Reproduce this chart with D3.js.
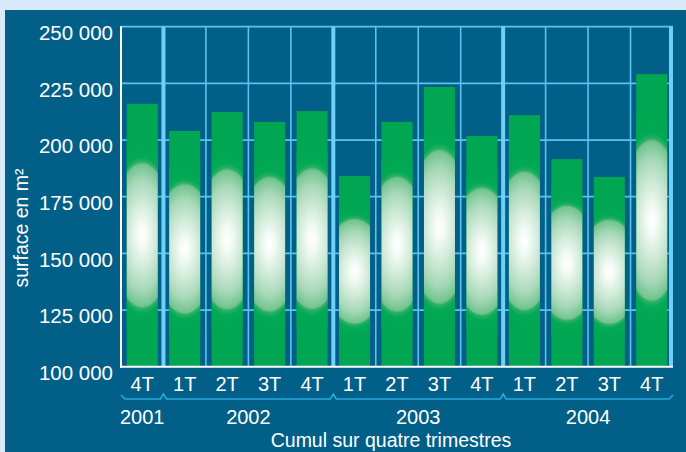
<!DOCTYPE html>
<html>
<head>
<meta charset="utf-8">
<script src="https://cdn.jsdelivr.net/npm/d3@7"></script>
<style>
  html, body { margin: 0; padding: 0; background: #d8e9f7; }
  svg { display: block; }
  text { font-family: "Liberation Sans", Arial, sans-serif; fill: #ffffff; }
</style>
</head>
<body>
<svg id="chart" width="686" height="452"></svg>
<script>
// ---- data ----
const quarters = ["4T","1T","2T","3T","4T","1T","2T","3T","4T","1T","2T","3T","4T"];
const years = ["2001","2002","2003","2004"];
const yearSpans = [1, 4, 4, 4];
const values = [216000, 204000, 212400, 208000, 212800, 184100, 208000, 223400, 201800, 211000, 191600, 183700, 229100];
const yTicks = [100000, 125000, 150000, 175000, 200000, 225000, 250000];
const yTitle = "surface en m²";
const xTitle = "Cumul sur quatre trimestres";

(function () {
// ---- layout ----
const W = 686, H = 452;
const pLeft = 121, pRight = 673, pTop = 26.7, pBottom = 366.7;
const bg = "#015f88", green = "#00a651", grid = "#5cc3ee", gridThick = "#6fd0f7", brace = "#27a9e1";

const svg = d3.select("#chart");
svg.append("rect").attr("x", 0).attr("y", 0).attr("width", W).attr("height", H).attr("fill", "#d8e9f7");
svg.append("rect").attr("x", 5).attr("y", 10).attr("width", W - 5).attr("height", H - 10).attr("fill", bg);

const idx = d3.range(quarters.length);
const x = d3.scaleBand().domain(idx).range([pLeft, pRight]).paddingInner(0.27).paddingOuter(0.135);
const y = d3.scaleLinear().domain([100000, 250000]).range([pBottom, pTop]);
const step = x.step();
const bw = x.bandwidth();

// per-bar radial gradients (user space)
const stops = [[0, "#ffffff"], [0.12, "#f4fbf6"], [0.35, "#d2ebda"], [0.6, "#a6d8b7"], [0.77, "#72c490"],
               [0.8, "#2caf65"], [0.85, "#03aa56"], [1, green]];
const defs = svg.append("defs");
values.forEach((v, i) => {
  const h = pBottom - y(v);
  const cx = x(i) + bw / 2, cy = y(v) + h / 2, r = 0.35 * h;
  const sx = (1.25 * bw) / r;
  const g = defs.append("radialGradient").attr("id", "glow" + i)
    .attr("gradientUnits", "userSpaceOnUse")
    .attr("cx", cx).attr("cy", cy).attr("r", r)
    .attr("gradientTransform", `translate(${cx},${cy}) scale(${sx},1) translate(${-cx},${-cy})`);
  stops.forEach(([o, c]) => g.append("stop").attr("offset", o).attr("stop-color", c));
});

// horizontal gridlines
svg.append("g").selectAll("line").data(yTicks.slice(1)).join("line")
  .attr("x1", pLeft).attr("x2", pRight)
  .attr("y1", d => y(d)).attr("y2", d => y(d))
  .attr("stroke", grid).attr("stroke-width", 1.8);

// vertical gridlines at slot boundaries
const boundaries = d3.range(1, quarters.length + 1);
const yearEnds = Array.from(d3.cumsum(yearSpans));
const thick = new Set(yearEnds);
svg.append("g").selectAll("line").data(boundaries).join("line")
  .attr("x1", i => pLeft + i * step - (i === quarters.length ? 2 : 0))
  .attr("x2", i => pLeft + i * step - (i === quarters.length ? 2 : 0))
  .attr("y1", pTop).attr("y2", pBottom)
  .attr("stroke", i => thick.has(i) ? gridThick : grid)
  .attr("stroke-width", i => thick.has(i) ? 4 : 1.6);

// bars
const bars = svg.append("g");
bars.selectAll("rect.bar").data(values).join("rect").attr("class", "bar")
  .attr("x", (d, i) => x(i)).attr("width", bw)
  .attr("y", d => y(d)).attr("height", d => pBottom - y(d))
  .attr("fill", green);
bars.selectAll("rect.glow").data(values).join("rect").attr("class", "glow")
  .attr("x", (d, i) => x(i)).attr("width", bw)
  .attr("y", d => { const h = pBottom - y(d); return y(d) + h * 0.15; })
  .attr("height", d => (pBottom - y(d)) * 0.7)
  .attr("fill", (d, i) => `url(#glow${i})`);

// axes lines
svg.append("line").attr("x1", pLeft).attr("x2", pLeft).attr("y1", pTop - 0.5).attr("y2", pBottom + 1)
  .attr("stroke", "#ffffff").attr("stroke-width", 2);
svg.append("line").attr("x1", pLeft - 1).attr("x2", pRight).attr("y1", pBottom).attr("y2", pBottom)
  .attr("stroke", "#ffffff").attr("stroke-width", 2);

// y axis labels
const fmt = d3.formatLocale({ decimal: ",", thousands: " ", grouping: [3], currency: ["", ""] }).format(",");
const yAxis = svg.append("g").attr("transform", `translate(${pLeft},0)`)
  .call(d3.axisLeft(y).tickValues(yTicks).tickFormat(fmt).tickSize(0).tickPadding(8));
yAxis.select(".domain").remove();
yAxis.selectAll("text").attr("font-size", 20.5).attr("dy", "0.62em").style("fill", "#fff")
  .attr("font-family", "'Liberation Sans', Arial, sans-serif");

// x axis quarter labels
const xAxis = svg.append("g").attr("transform", `translate(0,${pBottom})`)
  .call(d3.axisBottom(x).tickFormat(i => quarters[i]).tickSize(0).tickPadding(10));
xAxis.select(".domain").remove();
xAxis.selectAll("text").attr("font-size", 20).style("fill", "#fff")
  .attr("font-family", "'Liberation Sans', Arial, sans-serif");

// brace line with notches at year boundaries
const by = 399;
const pts = [[pLeft, by - 4], [pLeft + 4, by]];
yearEnds.forEach((e, k) => {
  const bx = pLeft + e * step;
  if (k < yearEnds.length - 1) {
    pts.push([bx - 3, by], [bx, by - 5], [bx + 3, by]);
  } else {
    pts.push([bx - 4, by], [bx, by - 4]);
  }
});
svg.append("path").attr("d", d3.line()(pts)).attr("fill", "none")
  .attr("stroke", brace).attr("stroke-width", 1.6);

// year labels
let start = 0;
const yearPos = yearSpans.map(s => { const a = start, b = start + s - 1; start += s; return (x(a) + x(b) + bw) / 2; });
svg.append("g").selectAll("text").data(years).join("text")
  .attr("x", (d, i) => yearPos[i]).attr("y", 424)
  .attr("text-anchor", "middle").attr("font-size", 20).text(d => d);

// titles
svg.append("text").attr("x", (pLeft + pRight) / 2 - 6).attr("y", 447)
  .attr("text-anchor", "middle").attr("font-size", 19.5).text(xTitle);
svg.append("text").attr("transform", "translate(28,228) rotate(-90)")
  .attr("text-anchor", "middle").attr("font-size", 19.5)
  .attr("font-family", "'DejaVu Sans', sans-serif").text(yTitle);
})();
</script>
</body>
</html>
